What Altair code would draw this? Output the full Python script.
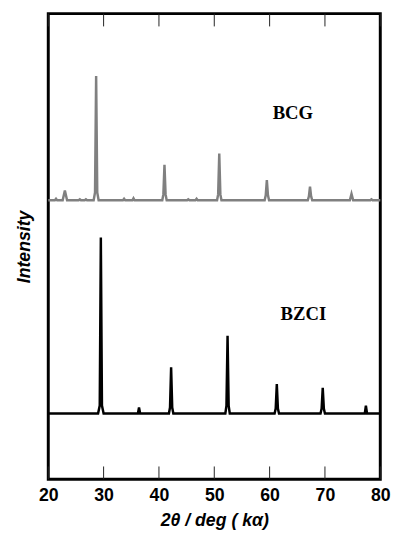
import altair as alt
import pandas as pd

# ---- data ----
bcg_two_theta = [20.0, 21.2, 21.4, 21.6, 22.6, 23.0, 23.4, 25.5, 25.7, 25.9,
                 26.6, 26.8, 27.0, 28.2, 28.45, 28.65, 28.85, 29.1, 33.5, 33.7,
                 33.9, 35.2, 35.4, 35.6, 40.6, 40.8, 41.0, 41.2, 41.4, 45.1,
                 45.3, 45.5, 46.6, 46.8, 47.0, 50.5, 50.7, 50.9, 51.1, 51.3,
                 59.1, 59.3, 59.5, 59.7, 59.9, 66.9, 67.1, 67.3, 67.5, 67.7,
                 74.5, 74.8, 75.1, 78.2, 78.4, 78.6, 80.0]
bcg_intensity = [0, 0, 1.5, 0, 0, 10, 0, 0, 1, 0,
                 0, 1, 0, 0, 8, 126.5, 8, 0, 0, 1.5,
                 0, 0, 2, 0, 0, 6, 36, 6, 0, 0,
                 1, 0, 0, 1.5, 0, 0, 6, 47.5, 6, 0,
                 0, 5, 20.5, 5, 0, 0, 4, 14, 4, 0,
                 0, 6.5, 0, 0, 1, 0, 0]

bzci_two_theta = [20.0, 29.0, 29.3, 29.5, 29.7, 30.0, 36.2, 36.4, 36.6, 41.8,
                  42.0, 42.2, 42.4, 42.6, 52.0, 52.2, 52.4, 52.6, 52.8, 60.9,
                  61.1, 61.3, 61.5, 61.7, 69.2, 69.4, 69.6, 69.8, 70.0, 77.2,
                  77.4, 77.6, 80.0]
bzci_intensity = [0, 0, 8, 179, 8, 0, 0, 6, 0, 0,
                  6, 47, 6, 0, 0, 8, 79, 8, 0, 0,
                  5, 30, 5, 0, 0, 5, 26, 5, 0, 0,
                  8, 0, 0]

samples = ["BCG", "BZCI"]
sample_colors = ["#808080", "#000000"]
sample_offsets = [284, 67]
label_two_theta = [64.2, 66.1]
label_height = [373, 168]

x_ticks = [20, 30, 40, 50, 60, 70, 80]

rows = []
for name, xs, ys in [("BCG", bcg_two_theta, bcg_intensity),
                     ("BZCI", bzci_two_theta, bzci_intensity)]:
    off = sample_offsets[samples.index(name)]
    for i, (a, b) in enumerate(zip(xs, ys)):
        rows.append({"sample": name, "order": i, "two_theta": a, "y": b + off})
df = pd.DataFrame(rows)

labels = pd.DataFrame({"sample": samples, "two_theta": label_two_theta,
                       "y": label_height})
ticks = pd.DataFrame({"two_theta": x_ticks})

W, H, TICK = 338, 474, 13

x_scale = alt.Scale(domain=[20, 80], nice=False, zero=False)
y_scale = alt.Scale(domain=[0, 474], nice=False, zero=False)
color_scale = alt.Scale(domain=samples, range=sample_colors)

bottom_axis = alt.Axis(
    orient="bottom", values=x_ticks, ticks=False, tickSize=0, domain=False,
    grid=False, labelPadding=8,
    labelFont="Liberation Sans", labelFontWeight="bold", labelFontSize=18,
    labelColor="black", labelFlush=False,
    title="2θ  / deg ( kα)", titleFont="Liberation Sans", titleFontWeight="bold",
    titleFontStyle="italic", titleFontSize=18, titleColor="black",
    titlePadding=7,
)
y_axis = alt.Axis(
    domain=False, ticks=False, labels=False, grid=False,
    title="Intensity", titleFont="Liberation Sans", titleFontWeight="bold",
    titleFontStyle="italic", titleFontSize=18, titleColor="black",
    titlePadding=15,
)


def X():
    return alt.X("two_theta:Q", scale=x_scale, axis=bottom_axis)


def Y():
    return alt.Y("y:Q", scale=y_scale, axis=y_axis)


lines = alt.Chart(df).mark_line(strokeWidth=2.5).encode(
    x=X(), y=Y(),
    color=alt.Color("sample:N", scale=color_scale, legend=None),
    order="order:Q",
)

# inward tick marks on the top and bottom edges of the frame
top_ticks = alt.Chart(ticks).mark_rule(color="#222222", strokeWidth=1).encode(
    x=X(), y=alt.value(0), y2=alt.value(TICK),
)
bottom_ticks = alt.Chart(ticks).mark_rule(color="#222222", strokeWidth=1).encode(
    x=X(), y=alt.value(H - TICK), y2=alt.value(H),
)

texts = alt.Chart(labels).mark_text(
    font="Liberation Serif", fontWeight="bold", fontSize=19, color="black",
    align="center", baseline="middle",
).encode(
    x=X(), y=Y(), text="sample:N",
)

chart = alt.layer(lines, top_ticks, bottom_ticks, texts).properties(
    width=W, height=H,
    padding={"left": 8, "top": 0, "right": 5, "bottom": 0},
).configure_view(stroke="black", strokeWidth=3)

chart.save("out.html", embed_options={"renderer": "svg", "actions": False})
